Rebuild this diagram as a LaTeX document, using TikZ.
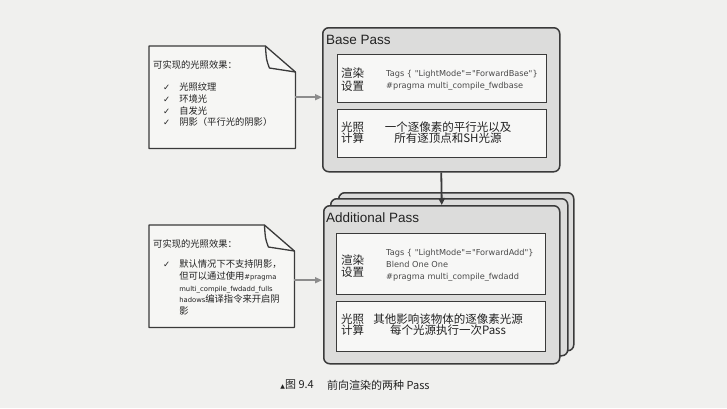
\documentclass[tikz,border=0pt]{standalone}
\usepackage{fontspec}
\setmainfont{Noto Sans CJK SC}
\newfontfamily\latinsans{Liberation Sans}
\newfontfamily\codefont{DejaVu Sans}
\newfontfamily\symfont{DejaVu Sans}
\usetikzlibrary{calc,arrows.meta}
\definecolor{paper}{HTML}{F0F0EE}
\definecolor{passfill}{HTML}{DCDCDB}
\definecolor{innerfill}{HTML}{F7F7F6}
\definecolor{notefill}{HTML}{F6F6F4}
\definecolor{edge}{HTML}{3A3A3A}
\definecolor{ink}{HTML}{222222}
\definecolor{codeink}{HTML}{4A4A4A}
\definecolor{arrowgray}{HTML}{8C8C8C}
\begin{document}
\begin{tikzpicture}[x=1pt,y=-1pt,
  passbox/.style={draw=edge, line width=1.5pt, fill=passfill, rounded corners=6pt, anchor=north west, inner sep=0pt},
  innerbox/.style={draw=edge, line width=1.3pt, fill=innerfill, anchor=north west, inner sep=0pt},
  noteanchor/.style={anchor=north west, inner sep=0pt},
  noteline/.style={draw=edge, line width=1.3pt},
  passtitle/.style={anchor=west, inner sep=0pt, text=ink, font=\latinsans\fontsize{13.5}{15}\selectfont},
  lbl/.style={anchor=west, inner sep=0pt, align=left, text=ink, font=\fontsize{11.5}{12.5}\selectfont},
  codetxt/.style={anchor=west, inner sep=0pt, align=left, text=codeink, font=\codefont\fontsize{8.2}{12.5}\selectfont},
  bodytxt/.style={inner sep=0pt, align=center, text=ink, font=\fontsize{11.5}{11.5}\selectfont},
  notetxt/.style={anchor=north west, inner sep=0pt, align=left, text=ink, font=\fontsize{9.3}{11.8}\selectfont},
  grayarrow/.style={draw=arrowgray, line width=1.5pt, -{Triangle[length=7pt,width=6pt]}},
  mainarrow/.style={draw=edge, line width=1.8pt, -{Triangle[length=7pt,width=6.5pt]}},
  captxt/.style={anchor=west, inner sep=0pt, text=ink, font=\fontsize{11}{12}\selectfont}
]
\fill[paper] (0,0) rectangle (727,408);
\useasboundingbox (0,0) rectangle (727,408);

% ---------- Base Pass ----------
\node[passbox, minimum width=237pt, minimum height=144pt] (base) at (322,27) {};
\node[passtitle] (basetitle) at (326,40) {Base Pass};
\node[innerbox, minimum width=209pt, minimum height=48pt] (bset) at (337,54) {};
\node[innerbox, minimum width=209pt, minimum height=48pt] (blight) at (337,109) {};
\node[lbl] (bsetlbl) at (341,79.5) {渲染\\设置};
\node[codetxt] (bsetcode) at (386,80.5) {Tags \{ "LightMode"="ForwardBase"\}\\\#pragma multi\_compile\_fwdbase};
\node[lbl, font=\fontsize{11.5}{11.5}\selectfont] (blightlbl) at (341,132.5) {光照\\计算};
\node[bodytxt] (blighttxt) at (448,132.5) {一个逐像素的平行光以及\\所有逐顶点和SH光源};

% ---------- Additional Pass (stack) ----------
\node[passbox, minimum width=235pt, minimum height=158pt] (add3) at (338,192) {};
\node[passbox, minimum width=237pt, minimum height=157pt] (add2) at (330,198) {};
\node[passbox, minimum width=236pt, minimum height=158pt] (add) at (323,205) {};
\node[passtitle] (addtitle) at (326,218) {Additional Pass};
\node[innerbox, minimum width=209pt, minimum height=61pt] (aset) at (336,233) {};
\node[innerbox, minimum width=209pt, minimum height=50pt] (alight) at (336,301) {};
\node[lbl] (asetlbl) at (341,266) {渲染\\设置};
\node[codetxt, font=\codefont\fontsize{8.2}{12}\selectfont] (asetcode) at (386,265) {Tags \{ "LightMode"="ForwardAdd"\}\\Blend One One\\\#pragma multi\_compile\_fwdadd};
\node[lbl, font=\fontsize{11.5}{11.5}\selectfont] (alightlbl) at (341,324.5) {光照\\计算};
\node[bodytxt] (alighttxt) at (448,324.5) {其他影响该物体的逐像素光源\\每个光源执行一次Pass};

% ---------- Note 1 ----------
\node[noteanchor, minimum width=146pt, minimum height=102pt] (note1) at (149,46) {};
\draw[noteline, fill=notefill, line join=round]
  (note1.north west) -- ($(note1.north east)+(-30,0)$) -- ($(note1.north east)+(0,26)$)
  -- (note1.south east) -- (note1.south west) -- cycle;
\draw[noteline, line join=round]
  ($(note1.north east)+(-30,0)$) .. controls ($(note1.north east)+(-29,14)$) .. ($(note1.north east)+(-26,22)$)
  -- ($(note1.north east)+(0,26)$);
\node[notetxt] (note1title) at (153,60) {可实现的光照效果：};
\node[notetxt] (note1list) at (163,82) {%
  \begin{tabular}{@{}l@{\hspace{9pt}}l@{}}
  {\symfont\fontsize{8.5}{9}\selectfont ✓} & 光照纹理\\
  {\symfont\fontsize{8.5}{9}\selectfont ✓} & 环境光\\
  {\symfont\fontsize{8.5}{9}\selectfont ✓} & 自发光\\
  {\symfont\fontsize{8.5}{9}\selectfont ✓} & 阴影（平行光的阴影）
  \end{tabular}};

% ---------- Note 2 ----------
\node[noteanchor, minimum width=145pt, minimum height=102pt] (note2) at (149,225) {};
\draw[noteline, fill=notefill, line join=round]
  (note2.north west) -- ($(note2.north east)+(-30,0)$) -- ($(note2.north east)+(0,26)$)
  -- (note2.south east) -- (note2.south west) -- cycle;
\draw[noteline, line join=round]
  ($(note2.north east)+(-30,0)$) .. controls ($(note2.north east)+(-29,14)$) .. ($(note2.north east)+(-26,22)$)
  -- ($(note2.north east)+(0,26)$);
\node[notetxt] (note2title) at (153,239) {可实现的光照效果：};
\node[notetxt] (note2list) at (163,259) {%
  \begin{tabular}{@{}l@{\hspace{9pt}}l@{}}
  {\symfont\fontsize{8.5}{9}\selectfont ✓} & 默认情况下不支持阴影，\\
   & 但可以通过使用{\codefont\fontsize{6.8}{9}\selectfont\#pragma}\\
   & {\codefont\fontsize{6.8}{9}\selectfont multi\_compile\_fwdadd\_fulls}\\
   & {\codefont\fontsize{6.8}{9}\selectfont hadows}编译指令来开启阴\\
   & 影
  \end{tabular}};

% ---------- Connectors ----------
\draw[grayarrow] (note1.east) -- (base.west |- note1.east);
\draw[grayarrow] ($(note2.east)+(0,4)$) -- ($(add.west |- note2.east)+(-1,4)$);
\draw[mainarrow] (base.south) -- (add.north);

% ---------- Caption ----------
\node[captxt, anchor=east] (capnum) at (314,385) {{\symfont\fontsize{6}{6}\selectfont ▲}图 9.4};
\node[captxt] (captext) at (327,385) {前向渲染的两种 Pass};
\end{tikzpicture}
\end{document}
